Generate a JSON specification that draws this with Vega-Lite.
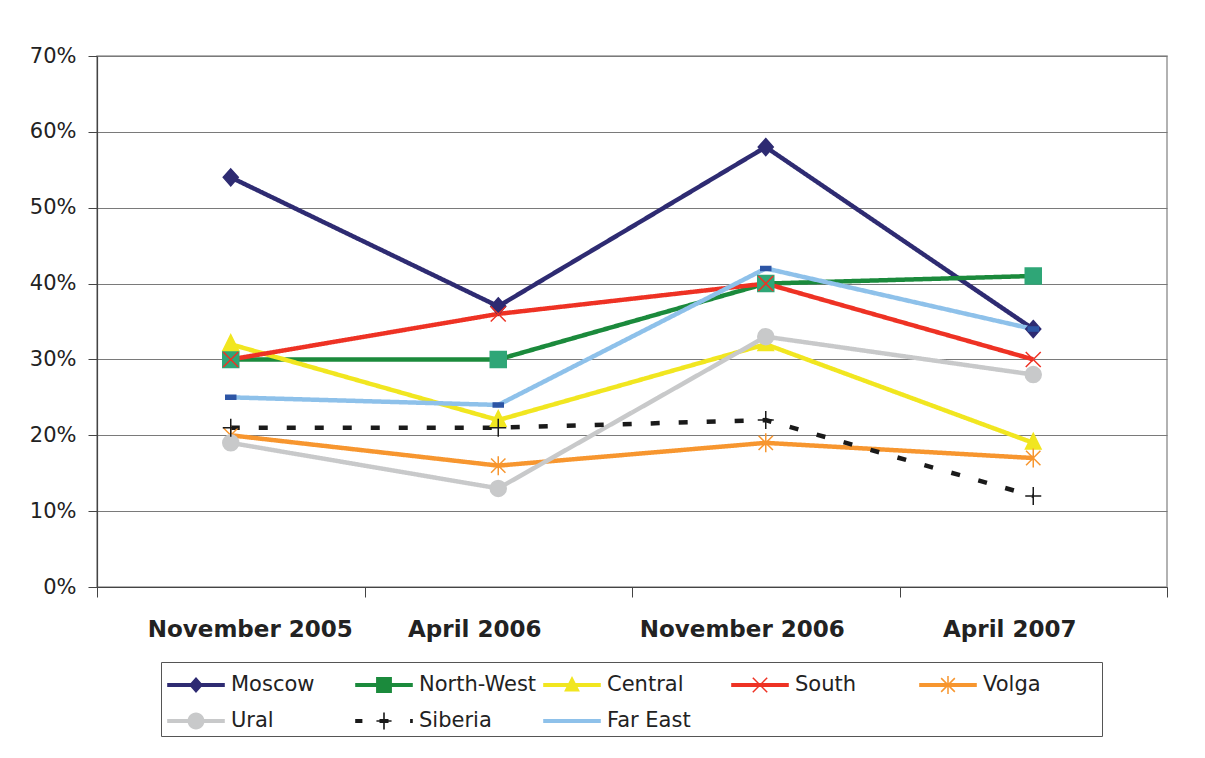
{
  "$schema": "https://vega.github.io/schema/vega-lite/v6.json",
  "width": 1070,
  "height": 531,
  "autosize": {"type": "none"},
  "padding": {"left": 97, "top": 56, "right": 38, "bottom": 171},
  "background": "white",
  "config": {
    "font": "DejaVu Sans",
    "view": {"stroke": "#999999", "strokeWidth": 1.5}
  },
  "data": {
    "values": [
      {"period": "November 2005", "region": "Moscow", "value": 0.54},
      {"period": "April 2006", "region": "Moscow", "value": 0.37},
      {"period": "November 2006", "region": "Moscow", "value": 0.58},
      {"period": "April 2007", "region": "Moscow", "value": 0.34},
      {"period": "November 2005", "region": "North-West", "value": 0.30},
      {"period": "April 2006", "region": "North-West", "value": 0.30},
      {"period": "November 2006", "region": "North-West", "value": 0.40},
      {"period": "April 2007", "region": "North-West", "value": 0.41},
      {"period": "November 2005", "region": "Central", "value": 0.32},
      {"period": "April 2006", "region": "Central", "value": 0.22},
      {"period": "November 2006", "region": "Central", "value": 0.32},
      {"period": "April 2007", "region": "Central", "value": 0.19},
      {"period": "November 2005", "region": "South", "value": 0.30},
      {"period": "April 2006", "region": "South", "value": 0.36},
      {"period": "November 2006", "region": "South", "value": 0.40},
      {"period": "April 2007", "region": "South", "value": 0.30},
      {"period": "November 2005", "region": "Volga", "value": 0.20},
      {"period": "April 2006", "region": "Volga", "value": 0.16},
      {"period": "November 2006", "region": "Volga", "value": 0.19},
      {"period": "April 2007", "region": "Volga", "value": 0.17},
      {"period": "November 2005", "region": "Ural", "value": 0.19},
      {"period": "April 2006", "region": "Ural", "value": 0.13},
      {"period": "November 2006", "region": "Ural", "value": 0.33},
      {"period": "April 2007", "region": "Ural", "value": 0.28},
      {"period": "November 2005", "region": "Siberia", "value": 0.21},
      {"period": "April 2006", "region": "Siberia", "value": 0.21},
      {"period": "November 2006", "region": "Siberia", "value": 0.22},
      {"period": "April 2007", "region": "Siberia", "value": 0.12},
      {"period": "November 2005", "region": "Far East", "value": 0.25},
      {"period": "April 2006", "region": "Far East", "value": 0.24},
      {"period": "November 2006", "region": "Far East", "value": 0.42},
      {"period": "April 2007", "region": "Far East", "value": 0.34}
    ]
  },
  "encoding": {
    "x": {
      "field": "period",
      "type": "nominal",
      "sort": ["November 2005", "April 2006", "November 2006", "April 2007"],
      "scale": {"type": "band", "paddingInner": 0, "paddingOuter": 0},
      "axis": {
        "title": null,
        "labelAngle": 0,
        "labelFont": "DejaVu Sans",
        "labelFontSize": 23,
        "labelFontWeight": "bold",
        "labelColor": "#222222",
        "labelPadding": 21,
        "labelLimit": 400,
        "labelOffset": {"condition": {"test": "datum.value == 'November 2005'", "value": 19}, "value": -24},
        "tickBand": "extent",
        "tickSize": 10,
        "tickColor": "#444444",
        "domainColor": "#444444",
        "domainWidth": 1.2,
        "grid": false
      }
    },
    "y": {
      "field": "value",
      "type": "quantitative",
      "scale": {"domain": [0, 0.7], "nice": false, "zero": true},
      "axis": {
        "title": null,
        "values": [0, 0.1, 0.2, 0.3, 0.4, 0.5, 0.6, 0.7],
        "format": ".0%",
        "labelFont": "DejaVu Sans",
        "labelFontSize": 21,
        "labelColor": "#222222",
        "labelPadding": 12,
        "tickSize": 9,
        "tickColor": "#444444",
        "domainColor": "#444444",
        "domainWidth": 1.2,
        "grid": true,
        "gridColor": "#7a7a7a",
        "gridWidth": 1.2
      }
    }
  },
  "layer": [
    {
      "mark": {"type": "line", "strokeWidth": 4.5},
      "encoding": {
        "color": {
          "field": "region",
          "type": "nominal",
          "scale": {
            "domain": ["Moscow", "North-West", "Central", "South", "Volga", "Ural", "Siberia", "Far East"],
            "range": ["#2e2b72", "#1b8a3c", "#f1e620", "#ee3224", "#f7962f", "#c8c9ca", "#1a1a1a", "#8ec1ea"]
          },
          "legend": null
        },
        "strokeDash": {
          "field": "region",
          "type": "nominal",
          "scale": {
            "domain": ["Moscow", "North-West", "Central", "South", "Volga", "Ural", "Siberia", "Far East"],
            "range": [[1, 0], [1, 0], [1, 0], [1, 0], [1, 0], [1, 0], [9, 19], [1, 0]]
          },
          "legend": null
        }
      }
    },
    {
      "mark": {"type": "point", "filled": true, "size": 400, "strokeWidth": 1.5, "opacity": 1},
      "encoding": {
        "shape": {
          "field": "region",
          "type": "nominal",
          "scale": {
            "domain": ["Moscow", "North-West", "Central", "South", "Volga", "Ural", "Siberia", "Far East"],
            "range": [
              "M0,-0.85L0.75,0L0,0.85L-0.75,0Z",
              "M-0.8,-0.8H0.8V0.8H-0.8Z",
              "M0,-0.95L0.78,0.62L-0.78,0.62Z",
              "M-0.75,-0.75L0.75,0.75M-0.75,0.75L0.75,-0.75",
              "M-0.72,-0.72L0.72,0.72M-0.72,0.72L0.72,-0.72M0,-0.95V0.95",
              "M-0.8,0A0.8,0.8,0,1,1,0.8,0A0.8,0.8,0,1,1,-0.8,0Z",
              "M-0.8,0H0.8M0,-0.9V0.9",
              "M-0.5,-0.2H0.5V0.2H-0.5Z"
            ]
          },
          "legend": null
        },
        "fill": {
          "field": "region",
          "type": "nominal",
          "scale": {
            "domain": ["Moscow", "North-West", "Central", "South", "Volga", "Ural", "Siberia", "Far East"],
            "range": ["#2e2b72", "#2fa677", "#f1e620", "#ee3224", "#f7962f", "#c8c9ca", "#1a1a1a", "#2d55a5"]
          },
          "legend": null
        },
        "stroke": {
          "field": "region",
          "type": "nominal",
          "scale": {
            "domain": ["Moscow", "North-West", "Central", "South", "Volga", "Ural", "Siberia", "Far East"],
            "range": ["#2e2b72", "#2fa677", "#f1e620", "#ee3224", "#f7962f", "#c8c9ca", "#1a1a1a", "#2d55a5"]
          },
          "legend": null
        }
      }
    },
    {
      "transform": [{"filter": "datum.value < 0"}],
      "mark": {"type": "point", "filled": true, "opacity": 1},
      "encoding": {
        "color": {
          "field": "region",
          "type": "nominal",
          "scale": {
            "domain": ["Moscow", "North-West", "Central", "South", "Volga", "Ural", "Siberia", "Far East"],
            "range": ["#2e2b72", "#1b8a3c", "#f1e620", "#ee3224", "#f7962f", "#c8c9ca", "#1a1a1a", "#8ec1ea"]
          },
          "legend": {
            "orient": "none",
            "legendX": 64,
            "legendY": 606,
            "direction": "horizontal",
            "columns": 5,
            "title": null,
            "symbolSize": 1296,
            "symbolOffset": 12,
            "labelOffset": 17,
            "labelExpr": "datum.label == 'Volga' ? 'Volga\u00a0\u00a0\u00a0\u00a0\u00a0\u00a0\u2800' : datum.label",
            "gridAlign": "all",
            "columnPadding": 5,
            "rowPadding": 8,
            "padding": 5,
            "strokeColor": "#555555",
            "fillColor": "white",
            "labelFont": "DejaVu Sans",
            "labelFontSize": 21,
            "labelColor": "#222222",
            "labelLimit": 300,
            "symbolStrokeWidth": 0,
            "symbolOpacity": 1
          }
        },
        "shape": {
          "field": "region",
          "type": "nominal",
          "scale": {
            "domain": ["Moscow", "North-West", "Central", "South", "Volga", "Ural", "Siberia", "Far East"],
            "range": [
              "M-1.6,-0.11H1.6V0.11H-1.6Z M0,-0.44L0.39,0L0,0.44L-0.39,0Z",
              "M-1.6,-0.11H1.6V0.11H-1.6Z M-0.44,-0.44H0.44V0.44H-0.44Z",
              "M-1.6,-0.11H1.6V0.11H-1.6Z M0,-0.5L0.44,0.36L-0.44,0.36Z",
              "M-1.6,-0.11H1.6V0.11H-1.6Z M-0.37,-0.43L0.43,0.37L0.37,0.43L-0.43,-0.37Z M-0.43,0.37L0.37,-0.43L0.43,-0.37L-0.37,0.43Z",
              "M-1.6,-0.11H1.6V0.11H-1.6Z M-0.35,-0.41L0.41,0.35L0.35,0.41L-0.41,-0.35Z M-0.41,0.35L0.35,-0.41L0.41,-0.35L-0.35,0.41Z M-0.042,-0.5H0.042V0.5H-0.042Z",
              "M-1.6,-0.11H1.6V0.11H-1.6Z M-0.47,0A0.47,0.47,0,1,1,0.47,0A0.47,0.47,0,1,1,-0.47,0Z",
              "M-1.6,-0.11H-1.2V0.11H-1.6Z M-0.25,-0.11H0.25V0.11H-0.25Z M1.45,-0.11H1.6V0.11H1.45Z M-0.42,-0.045H0.42V0.045H-0.42Z M-0.045,-0.47H0.045V0.47H-0.045Z",
              "M-1.6,-0.11H1.6V0.11H-1.6Z M-0.28,-0.11H0.28V0.11H-0.28Z"
            ]
          }
        }
      }
    }
  ],
  "resolve": {"scale": {"color": "independent", "shape": "independent"}}
}
